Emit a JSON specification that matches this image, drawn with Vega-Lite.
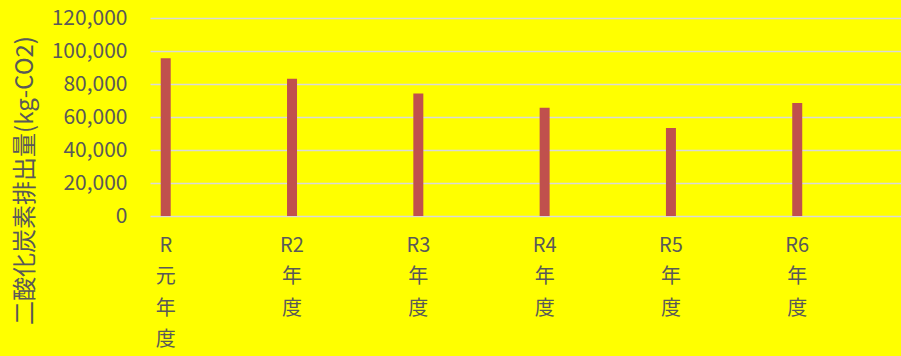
{
  "$schema": "https://vega.github.io/schema/vega-lite/v6.json",
  "width": 751,
  "height": 198,
  "autosize": "none",
  "padding": {"left": 150, "top": 18, "right": 0, "bottom": 140},
  "background": "#ffff00",
  "config": {
    "view": {"stroke": null},
    "font": "Noto Sans CJK JP"
  },
  "data": {
    "values": [
      {"年度": "R元年度", "排出量": 95600},
      {"年度": "R2年度", "排出量": 83200},
      {"年度": "R3年度", "排出量": 74200},
      {"年度": "R4年度", "排出量": 65600},
      {"年度": "R5年度", "排出量": 53400},
      {"年度": "R6年度", "排出量": 68500}
    ]
  },
  "mark": {"type": "bar", "size": 10, "color": "#c0504d"},
  "encoding": {
    "x": {
      "field": "年度",
      "type": "nominal",
      "sort": null,
      "scale": {"paddingInner": 0.751, "paddingOuter": 0.3485, "align": 0},
      "axis": {
        "title": null,
        "labelAngle": 0,
        "domain": false,
        "ticks": false,
        "labelFontSize": 20,
        "labelColor": "#595959",
        "labelPadding": 19,
        "labelLineHeight": 31.5,
        "labelBaseline": "top",
        "labelExpr": "split(replace(replace(replace(datum.label,'元','\\n元'),'年','\\n年'),'度','\\n度'),'\\n')"
      }
    },
    "y": {
      "field": "排出量",
      "type": "quantitative",
      "scale": {"domain": [0, 120000]},
      "axis": {
        "title": "二酸化炭素排出量(kg-CO2)",
        "titleFontSize": 24,
        "titleFontWeight": "normal",
        "titleColor": "#595959",
        "titleAngle": -90,
        "titleX": -125,
        "titleY": 162,
        "titleAlign": "center",
        "titleBaseline": "middle",
        "values": [0, 20000, 40000, 60000, 80000, 100000, 120000],
        "labelExpr": "format(datum.value, ',')",
        "domain": false,
        "ticks": false,
        "labelFontSize": 21,
        "labelColor": "#595959",
        "labelPadding": 23,
        "gridColor": "#d9d9d9",
        "gridWidth": 1.5
      }
    }
  }
}
